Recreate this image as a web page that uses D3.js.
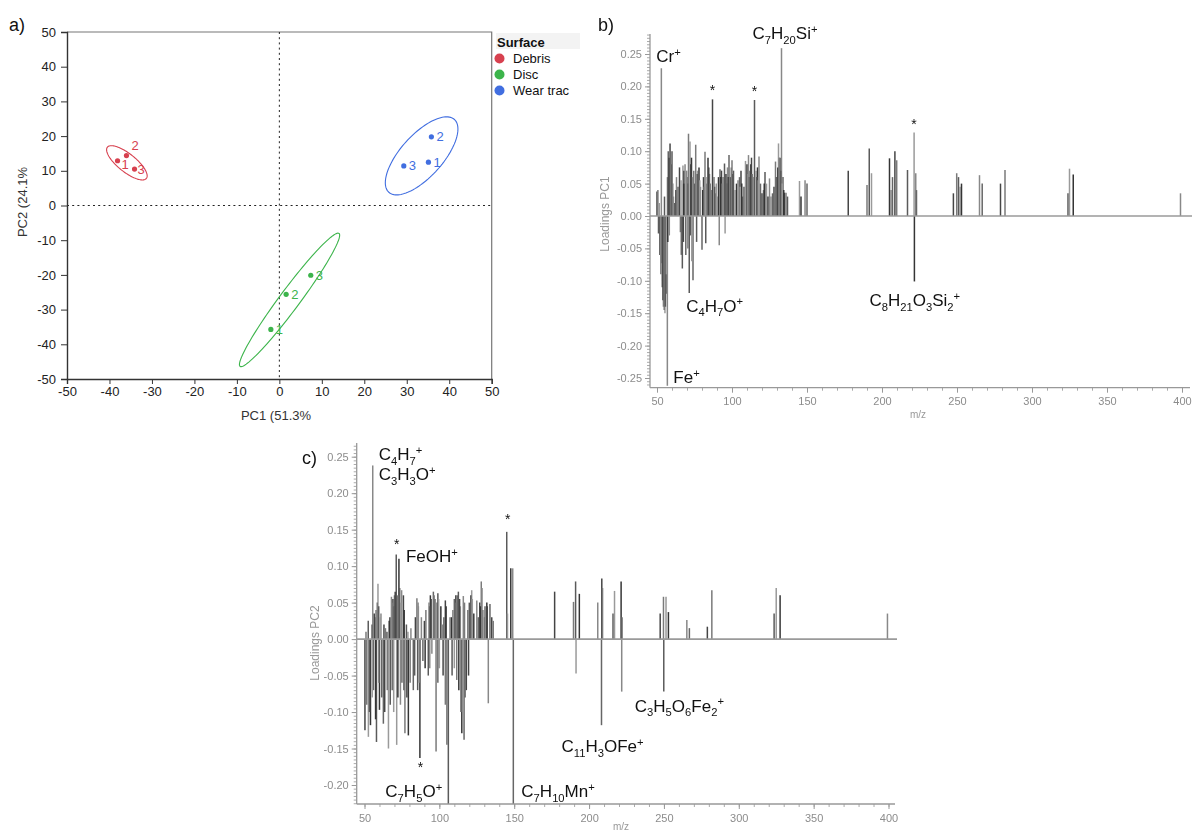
<!DOCTYPE html>
<html><head><meta charset="utf-8">
<script src="https://cdn.jsdelivr.net/npm/d3@7"></script>
<style>
body{margin:0;background:#fff;}
svg{display:block;font-family:"Liberation Sans",Arial,Helvetica,sans-serif;}
</style></head><body>
<svg id="fig" width="1195" height="832"></svg>
<script>
// ---------- a) PCA scores ----------
const surfaces = ["Debris", "Disc", "Wear trac"];
const surfaceColors = ["#d7414f", "#3cb44b", "#416ee0"];
const scoreSurface = ["Debris","Debris","Debris","Disc","Disc","Disc","Wear trac","Wear trac","Wear trac"];
const scoreRep = ["1","2","3","1","2","3","1","2","3"];
const scorePC1 = [-38.1, -36.0, -34.1, -2.0, 1.6, 7.4, 35.1, 35.8, 29.3];
const scorePC2 = [12.9, 14.4, 10.5, -35.7, -25.6, -20.1, 12.5, 19.8, 11.4];
// confidence ellipses: centre and two conjugate semi-axis vectors (score units)
const ellipseCentre = [[-35.9, 12.3], [2.4, -27.2], [33.5, 14.3]];
const ellipseAxisU = [[4.59, -4.50], [11.65, 19.16], [7.72, 10.49]];
const ellipseAxisV = [[-1.32, -2.02], [1.89, -1.72], [3.67, -4.05]];
const pcaTicks = [-50, -40, -30, -20, -10, 0, 10, 20, 30, 40, 50];

// ---------- b) PC1 loadings ----------
const pc1MZ = [50.0,50.6,51.0,51.5,52.0,52.9,53.2,53.8,54.3,55.0,55.3,56.0,56.9,57.5,58.7,59.5,60.0,61,62,63,64,65,65.6,66.9,67.3,68,68.7,69.2,70,71,71.5,72,73,73.6,74,75,75.8,76.4,77,78,79,80,81,82,82.5,83,84,85,86,87,88,89,90,91,91.5,92,93,94,95,95.4,96,97,98,99,100,101,102,103,104,105,106,107,108,109,110,111,112,113,114,115,116,117,118,119,120,121,122,123,124,125,127,128,129,130,131,132,133,134,135,136,137,145,146,148.7,150,177.5,190,191.5,193,205,206,207,208.6,209.8,217,221.4,221.6,222.5,223,247.6,249.8,251,252,253,265,266.8,279,282,324,325,327.5,399,
  57.0,58.0,60.5,62.5,66.0,67.8,69.8,70.5,72.5,74.5,76.8,78.5,80.5,81.5,83.5,84.5,85.5,88.5,89.5,92.5,93.5,96.5,97.5,99.5,100.5,105.5,106.5,110.5,111.5,112.5,113.5,116.5,117.5,121.5,126,129.5,130.5,131.5,132.5,133.5,134.5,
  52.5,53.5,54.0,54.8,55.6,56.3,57.2,58.2,66.2,67.6,70.6,72.4,73.2];
const pc1Loading = [0.038,0.040,-0.027,0.020,-0.060,0.228,-0.073,-0.100,-0.140,0.030,-0.150,-0.120,-0.262,0.100,0.112,0.080,0.100,0.030,0.020,0.060,0.045,0.075,-0.025,-0.081,0.078,0.070,0.080,-0.060,0.060,0.127,-0.119,0.115,0.090,0.060,-0.099,0.050,0.110,-0.040,0.070,0.075,0.045,-0.052,0.060,0.099,-0.042,0.050,0.090,0.065,0.040,0.180,0.060,0.035,0.030,0.060,-0.045,0.072,0.070,0.060,0.081,-0.027,0.065,0.075,0.094,0.060,0.086,0.070,0.040,0.050,0.055,0.060,0.070,0.030,0.045,0.085,0.080,0.094,0.070,0.090,0.060,0.179,0.070,0.075,0.092,0.050,0.035,0.040,0.068,0.050,0.030,0.058,0.035,0.045,0.084,0.040,0.112,0.090,0.259,0.060,0.036,0.036,0.030,0.054,0.030,0.055,0.050,0.070,0.048,0.104,0.066,0.089,0.040,0.060,0.100,0.086,0.071,0.129,-0.101,0.066,0.040,0.035,0.066,0.060,0.045,0.050,0.063,0.050,0.050,0.071,0.035,0.073,0.064,0.035,
  0.060,0.090,0.050,0.040,0.055,0.050,0.070,0.050,0.080,0.070,0.065,0.055,0.040,0.045,0.060,0.075,0.050,0.045,0.050,0.060,0.050,0.050,0.060,0.075,0.065,0.045,0.050,0.065,0.060,0.080,0.065,0.060,0.055,0.050,0.030,0.060,0.075,0.090,0.070,0.050,0.040,
  -0.090,-0.110,-0.130,-0.145,-0.140,-0.090,-0.040,-0.030,-0.060,-0.040,-0.050,-0.030,-0.070];
const pc1LabelText = ["Cr+", "*", "*", "C7H20Si+", "*", "C4H7O+", "Fe+", "C8H21O3Si2+"];
const pc1LabelMZ = [52.9, 87, 115, 133, 221.4, 71.5, 56.9, 221.6];
const loadTicksB = [-0.25, -0.20, -0.15, -0.10, -0.05, 0.00, 0.05, 0.10, 0.15, 0.20, 0.25];

// ---------- c) PC2 loadings ----------
const pc2MZ = [50.3,51,52.5,52.6,54,55.5,56,57,57.7,58,59,60,61,62.6,63,64,65,66,67,68,68.5,69,70,71.2,71.5,73,74.8,75,76,77,78,79,79.3,81,82.6,84,85,85.5,86,87,88,89,90,91,92.6,93,94,95,96,97,97.8,99,100,101,102,103,104,105,106,107,108,109,110,111,111.6,112.7,114,115,116,116.5,118,119,120,121.6,123,125,126,127,128,129,130,131.7,132.7,133.8,135,136,145,145.5,147.7,149,149.4,177,189.6,191,191.3,193.5,205.8,208.3,208.5,209,216,217,221.4,221.8,222,247.5,249.7,249.9,251.4,253,265.3,267,279,282,323.6,325,327.6,399.3,
  55.0,56.5,58.5,59.5,60.5,66.5,68.2,69.5,70.5,72.2,73.5,74.2,76.5,85.8,93.5,94.5,96.5,98.5,99.5,104.5,111.3,112.0,113.5,116.8,121.0,122.0,127.5,128.5,130.5,132.0,
  51.5,53.3,55.2,57.4,59.5,61.5,63.5,65.2,67.2,69.5,72.3,74.0,76.3,78.3,80.5,83.5,86.3,90.5,93.6,99.0,102.5,104.0,108.5,110.0,113.0,114.3,117.2,119.5];
const pc2Loading = [-0.125,0.010,0.025,-0.134,-0.118,0.238,-0.070,0.030,0.040,-0.141,0.076,-0.097,0.035,-0.116,0.020,0.015,0.010,-0.150,0.030,0.058,-0.070,0.055,0.060,0.116,-0.145,0.110,0.067,-0.060,0.060,-0.129,0.020,0.010,-0.132,0.015,-0.070,0.030,0.056,-0.070,0.045,-0.163,0.030,-0.030,0.025,0.040,-0.050,0.050,0.060,-0.020,0.065,0.055,-0.154,0.063,-0.040,0.045,0.020,0.030,0.053,-0.145,-0.226,0.030,0.030,0.040,0.055,0.060,-0.056,0.065,0.045,-0.129,0.059,-0.138,-0.070,0.040,0.050,0.067,0.035,0.053,0.030,0.050,0.079,0.040,0.030,0.050,-0.088,0.048,0.030,0.025,0.147,0.035,0.097,0.097,-0.226,0.065,0.051,0.079,-0.047,0.062,0.050,-0.118,0.083,0.070,0.035,0.066,0.079,-0.072,0.030,0.035,0.058,-0.072,0.058,0.037,0.026,0.015,0.017,0.067,0.035,0.070,0.060,0.035,
  0.020,0.035,0.050,0.045,0.030,0.025,0.050,0.045,0.065,0.060,0.070,0.050,0.040,0.050,0.045,0.055,0.060,0.050,0.055,0.045,0.050,0.060,0.055,0.050,0.060,0.055,0.045,0.070,0.045,0.045,
  -0.090,-0.100,-0.080,-0.110,-0.060,-0.080,-0.100,-0.070,-0.090,-0.100,-0.080,-0.090,-0.070,-0.080,-0.060,-0.050,-0.060,-0.040,-0.040,-0.060,-0.050,-0.090,-0.050,-0.040,-0.070,-0.100,-0.080,-0.050];
const pc2LabelText = ["C4H7+", "C3H3O+", "*", "FeOH+", "*", "*", "C7H5O+", "C7H10Mn+", "C11H3OFe+", "C3H5O6Fe2+"];
const pc2LabelMZ = [55.5, 55.5, 71.2, 73, 145, 87, 106, 149.4, 208.3, 249.9];
const loadTicksC = [-0.20, -0.15, -0.10, -0.05, 0.00, 0.05, 0.10, 0.15, 0.20, 0.25];
const mzTicks = [50, 100, 150, 200, 250, 300, 350, 400];

// ---------- drawing ----------
const svg = d3.select("#fig");
svg.append("defs").append("filter").attr("id", "soft")
  .attr("x", "-5%").attr("y", "-5%").attr("width", "110%").attr("height", "110%")
  .append("feGaussianBlur").attr("stdDeviation", 0.5);

const hyphen = f => v => f(v).replace("\u2212", "-");

// writes a formula: digits as subscripts, "+" as superscript
function formula(sel, str, size) {
  const parts = str.match(/\d+|\+|[^\d+]+/g);
  let shift = 0;
  parts.forEach(p => {
    const type = /^\d+$/.test(p) ? "sub" : (p === "+" ? "sup" : "base");
    const target = type === "sub" ? size * 0.28 : type === "sup" ? -size * 0.36 : 0;
    sel.append("tspan")
      .attr("dy", target - shift)
      .attr("font-size", type === "base" ? size : size * 0.66)
      .text(p);
    shift = target;
  });
}

// ----- panel a -----
const xA = d3.scaleLinear([-50, 50], [67, 491.7]);
const yA = d3.scaleLinear([-50, 50], [379, 32]);
const gA = svg.append("g");
const colorOf = d3.scaleOrdinal(surfaces, surfaceColors);

gA.append("text").attr("x", 9).attr("y", 31).attr("font-size", 18).attr("fill", "#111").text("a)");

// frame: top and right in grey
gA.append("path")
  .attr("d", `M${xA(-50)},${yA(50)}H${xA(50)}V${yA(-50)}`)
  .attr("fill", "none").attr("stroke", "#777").attr("stroke-width", 1.2);

// zero reference lines
gA.append("line").attr("x1", xA(-50)).attr("x2", xA(50)).attr("y1", yA(0)).attr("y2", yA(0))
  .attr("stroke", "#222").attr("stroke-dasharray", "2,3.2");
gA.append("line").attr("x1", xA(0)).attr("x2", xA(0)).attr("y1", yA(50)).attr("y2", yA(-50))
  .attr("stroke", "#222").attr("stroke-dasharray", "2,3.2");

const axA_x = gA.append("g").attr("transform", `translate(0,${yA(-50)})`)
  .call(d3.axisBottom(xA).tickValues(pcaTicks).tickSize(5).tickPadding(3).tickFormat(hyphen(d3.format("d"))));
const axA_y = gA.append("g").attr("transform", `translate(${xA(-50)},0)`)
  .call(d3.axisLeft(yA).tickValues(pcaTicks).tickSize(6).tickPadding(5).tickFormat(hyphen(d3.format("d"))));
[axA_x, axA_y].forEach(ax => {
  ax.select(".domain").attr("stroke", "#333").attr("stroke-width", 1.4);
  ax.selectAll(".tick line").attr("stroke", "#333");
  ax.selectAll("text").attr("font-size", 13).attr("fill", "#222").attr("font-family", null);
});

gA.append("text").attr("x", 276).attr("y", 420).attr("text-anchor", "middle")
  .attr("font-size", 13).attr("fill", "#333").text("PC1 (51.3%");
gA.append("text").attr("transform", "translate(27,202) rotate(-90)").attr("text-anchor", "middle")
  .attr("font-size", 13).attr("fill", "#333").text("PC2 (24.1%");

// ellipses
const tSteps = d3.range(0, 361, 3).map(d => d * Math.PI / 180);
surfaces.forEach((s, i) => {
  const c = ellipseCentre[i], u = ellipseAxisU[i], v = ellipseAxisV[i];
  const pts = tSteps.map(t => [c[0] + Math.cos(t) * u[0] + Math.sin(t) * v[0],
                               c[1] + Math.cos(t) * u[1] + Math.sin(t) * v[1]]);
  gA.append("path")
    .attr("d", d3.line().x(p => xA(p[0])).y(p => yA(p[1]))(pts))
    .attr("fill", "none").attr("stroke", surfaceColors[i]).attr("stroke-width", 1.1);
});

// score points and replicate labels
const labelShift = { "Debris1": [4, 8], "Debris2": [5, -6], "Debris3": [3, 5] };
scorePC1.forEach((v, i) => {
  const col = colorOf(scoreSurface[i]);
  const px = xA(v), py = yA(scorePC2[i]);
  gA.append("circle").attr("cx", px).attr("cy", py).attr("r", 2.6).attr("fill", col);
  const off = labelShift[scoreSurface[i] + scoreRep[i]] || [5, 4.5];
  gA.append("text").attr("x", px + off[0]).attr("y", py + off[1])
    .attr("font-size", 13).attr("fill", col).text(scoreRep[i]);
});

// legend
const gL = gA.append("g");
gL.append("rect").attr("x", 496).attr("y", 33).attr("width", 84).attr("height", 16).attr("fill", "#f3f3f3");
gL.append("text").attr("x", 497).attr("y", 46.5).attr("font-size", 13).attr("font-weight", "bold")
  .attr("fill", "#111").text("Surface");
surfaces.forEach((s, i) => {
  const yy = 58.5 + i * 16;
  gL.append("circle").attr("cx", 499.5).attr("cy", yy).attr("r", 5).attr("fill", surfaceColors[i]);
  gL.append("text").attr("x", 513).attr("y", yy + 4.5).attr("font-size", 13).attr("fill", "#111").text(s);
});

// ----- spectrum panels -----
const barShades = ["#454545", "#7a7a7a", "#5a5a5a", "#9a9a9a", "#353535", "#888888", "#666666"];

function spectrum(cfg) {
  const { x, y, mz, load, yTicks, axisX, axisTop, axisBottom, axisRight, title, titlePos, mzPos, tag, tagPos, labels, labelMZ, labelOffset } = cfg;
  const g = svg.append("g");
  const soft = g.append("g").attr("filter", "url(#soft)");
  const grey = "#8c8c8c";

  // peaks
  soft.append("g").selectAll("line").data(mz).join("line")
    .attr("x1", d => x(d)).attr("x2", d => x(d))
    .attr("y1", y(0)).attr("y2", (d, i) => y(load[i]))
    .attr("stroke", (d, i) => barShades[i % barShades.length])
    .attr("stroke-width", 1.5);

  // baseline at zero loading
  soft.append("line").attr("x1", axisX).attr("x2", axisRight + 2).attr("y1", y(0)).attr("y2", y(0))
    .attr("stroke", "#9a9a9a").attr("stroke-width", 1.6);

  // left axis: major and minor ticks
  const yMin = y.invert(axisBottom), yMax = y.invert(axisTop);
  const minorY = d3.range(Math.ceil(yMin / 0.005), Math.floor(yMax / 0.005) + 1).map(k => k * 0.005);
  soft.append("g").attr("transform", `translate(${axisX},0)`)
    .call(d3.axisLeft(y).tickValues(minorY).tickSize(3).tickFormat(""))
    .call(a => a.select(".domain").remove())
    .call(a => a.selectAll(".tick line").attr("stroke", "#aaa"));
  const ay = soft.append("g").attr("transform", `translate(${axisX},0)`)
    .call(d3.axisLeft(y).tickValues(yTicks).tickSize(5).tickPadding(3).tickFormat(hyphen(d3.format(".2f"))));
  ay.select(".domain").attr("d", `M-0,${axisTop}V${axisBottom}`).attr("stroke", "#999").attr("stroke-width", 1.3);

  // bottom axis
  const xMin = x.invert(axisX), xMax = x.invert(axisRight);
  const minorX = d3.range(Math.ceil(xMin / 10), Math.floor(xMax / 10) + 1).map(k => k * 10);
  soft.append("g").attr("transform", `translate(0,${axisBottom})`)
    .call(d3.axisBottom(x).tickValues(minorX).tickSize(3).tickFormat(""))
    .call(a => a.select(".domain").remove())
    .call(a => a.selectAll(".tick line").attr("stroke", "#aaa"));
  const ax = soft.append("g").attr("transform", `translate(0,${axisBottom})`)
    .call(d3.axisBottom(x).tickValues(mzTicks).tickSize(5).tickPadding(5).tickFormat(d3.format("d")));
  ax.select(".domain").attr("d", `M${axisX},0H${axisRight}`).attr("stroke", "#999").attr("stroke-width", 1.3);

  [ay, ax].forEach(a => {
    a.selectAll(".tick line").attr("stroke", "#999");
    a.selectAll("text").attr("font-size", 11).attr("fill", grey);
  });

  soft.append("text").attr("transform", `translate(${titlePos[0]},${titlePos[1]}) rotate(-90)`)
    .attr("text-anchor", "middle").attr("font-size", 12).attr("fill", "#999").text(title);
  soft.append("text").attr("x", mzPos[0]).attr("y", mzPos[1]).attr("text-anchor", "middle")
    .attr("font-size", 10).attr("fill", "#999").text("m/z");

  g.append("text").attr("x", tagPos[0]).attr("y", tagPos[1]).attr("font-size", 18).attr("fill", "#111").text(tag);

  // peak annotations
  labels.forEach((txt, i) => {
    const k = mz.indexOf(labelMZ[i]);
    const px = x(mz[k]), py = y(load[k]);
    const off = labelOffset[i];
    const t = g.append("text").attr("x", px + off[0]).attr("y", py + off[1]).attr("fill", "#111");
    if (txt === "*") {
      t.attr("text-anchor", "middle").attr("font-size", 14).text("*");
    } else {
      formula(t, txt, 17);
    }
  });
}

spectrum({
  x: d3.scaleLinear([50, 400], [657, 1182]),
  y: d3.scaleLinear([-0.25, 0.25], [378, 54]),
  mz: pc1MZ, load: pc1Loading, yTicks: loadTicksB,
  axisX: 650, axisTop: 34, axisBottom: 387.7, axisRight: 1190,
  title: "Loadings PC1", titlePos: [609, 214], mzPos: [918, 418],
  tag: "b)", tagPos: [598, 31],
  labels: pc1LabelText, labelMZ: pc1LabelMZ,
  labelOffset: [[-5, -6], [0, -4], [0, -4], [-29, -9], [0, -3], [-3, 18.5], [6, -3], [-45, 25]]
});

spectrum({
  x: d3.scaleLinear([50, 400], [364.5, 888.5]),
  y: d3.scaleLinear([-0.20, 0.25], [785, 456.7]),
  mz: pc2MZ, load: pc2Loading, yTicks: loadTicksC,
  axisX: 356.7, axisTop: 443, axisBottom: 804, axisRight: 895,
  title: "Loadings PC2", titlePos: [319, 643], mzPos: [621, 830],
  tag: "c)", tagPos: [302, 464],
  labels: pc2LabelText, labelMZ: pc2LabelMZ,
  labelOffset: [[6, -5], [6, 15], [0.5, -5], [7, 3], [1, -8], [0.5, 14], [-63, -7], [8, -7], [-40, 27], [-29, 20]]
});
</script>
</body></html>
